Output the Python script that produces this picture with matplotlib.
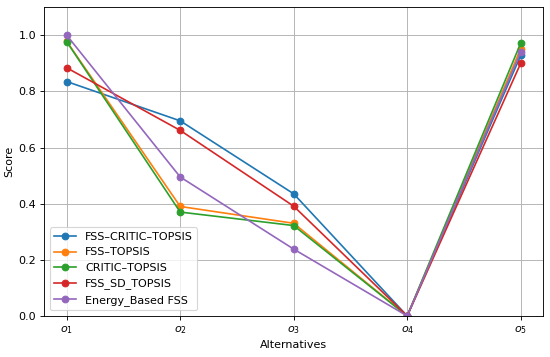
import matplotlib
matplotlib.use('Agg')
import matplotlib.pyplot as plt

# Alternatives and scores
alternatives = [r'$o_1$', r'$o_2$', r'$o_3$', r'$o_4$', r'$o_5$']
fss_critic_topsis = [0.835, 0.695, 0.435, 0.0, 0.928]
fss_topsis = [0.978, 0.390, 0.330, 0.0, 0.952]
critic_topsis = [0.977, 0.370, 0.322, 0.0, 0.972]
fss_sd_topsis = [0.884, 0.661, 0.391, 0.0, 0.900]
energy_fss = [1.0, 0.495, 0.238, 0.0, 0.940]

series = [
    ('FSS\u2013CRITIC\u2013TOPSIS', fss_critic_topsis),
    ('FSS\u2013TOPSIS', fss_topsis),
    ('CRITIC\u2013TOPSIS', critic_topsis),
    ('FSS_SD_TOPSIS', fss_sd_topsis),
    ('Energy_Based FSS', energy_fss),
]

# reference looks like a larger figure scaled down, so use a lower dpi
fig, ax = plt.subplots(figsize=(6.875, 4.4625), dpi=80)
x = list(range(len(alternatives)))
for name, vals in series:
    ax.plot(x, vals, marker='o', label=name)

ax.set_xticks(x)
ax.set_xticklabels(alternatives)
ax.set_ylim(0, 1.1)
ax.set_xlabel('Alternatives')
ax.set_ylabel('Score')
ax.grid(True)
ax.legend(loc='lower left')
fig.subplots_adjust(left=0.08, right=0.988, top=0.98, bottom=0.115)
fig.savefig('out.png')
